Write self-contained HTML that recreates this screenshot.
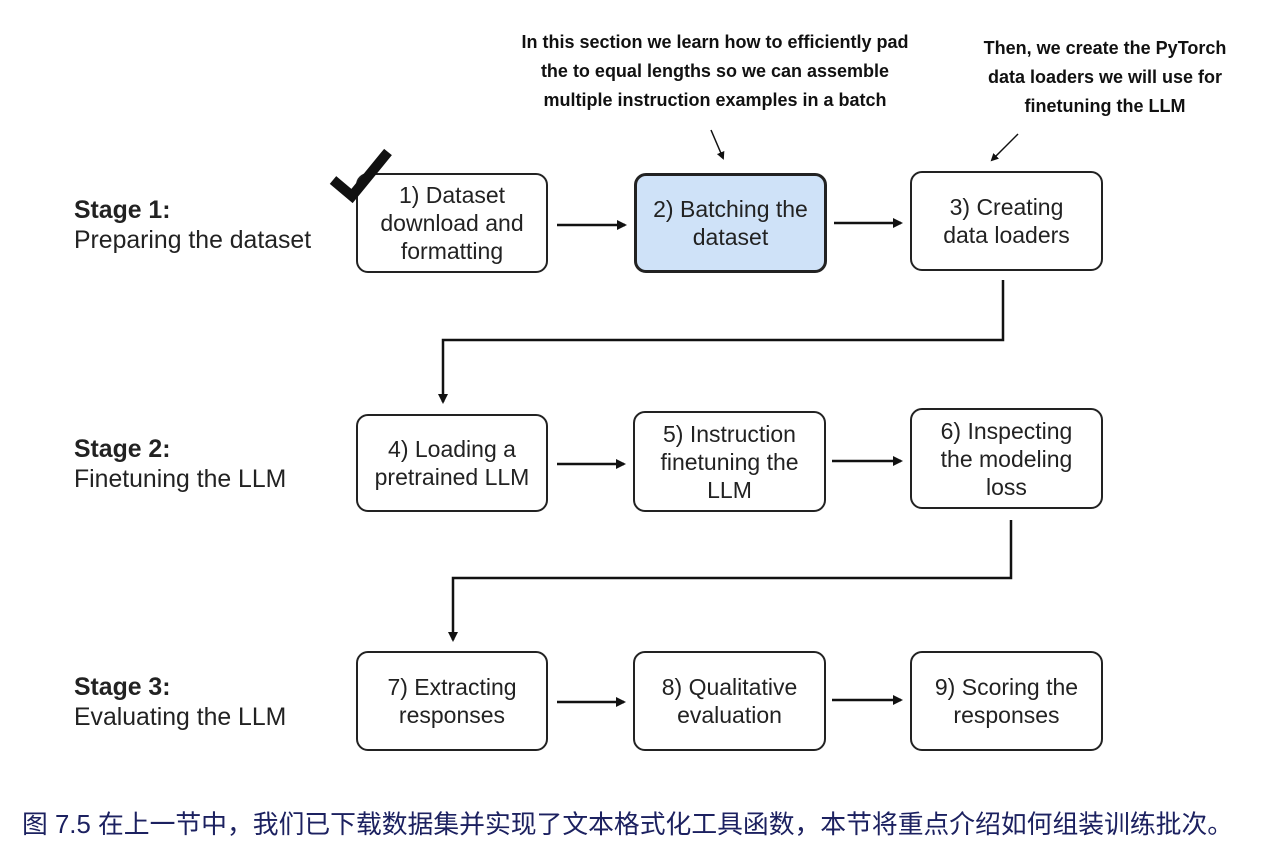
<!DOCTYPE html>
<html><head><meta charset="utf-8"><style>
body{margin:0;width:1268px;height:854px;background:#fff;position:relative;overflow:hidden;font-family:"Liberation Sans",sans-serif;color:#222}
.b{position:absolute;box-sizing:border-box;border:2px solid #222;border-radius:12px;background:#fff;display:flex;align-items:center;justify-content:center;text-align:center;font-size:23px;line-height:28px;white-space:nowrap}
.st{position:absolute;left:74px;font-size:24.8px;line-height:30px}
.st b{font-weight:bold}
.note{position:absolute;font-weight:bold;font-size:18px;line-height:29px;text-align:center;color:#111;white-space:nowrap}
.cap{position:absolute;left:22px;top:804px;font-size:25.8px;color:#1c2160;font-family:"Liberation Sans","Noto Sans CJK SC",sans-serif;white-space:nowrap}
</style></head><body>
<div class="note" style="left:505px;top:28px;width:420px">In this section we learn how to efficiently pad<br>the to equal lengths so we can assemble<br>multiple instruction examples in a batch</div>
<div class="note" style="left:960px;top:34px;width:290px">Then, we create the PyTorch<br>data loaders we will use for<br>finetuning the LLM</div>

<div class="st" style="top:196px"><b>Stage 1:</b><br>Preparing the dataset</div>
<div class="st" style="top:435px"><b>Stage 2:</b><br>Finetuning the LLM</div>
<div class="st" style="top:673px"><b>Stage 3:</b><br>Evaluating the LLM</div>

<div class="b" style="left:356px;top:173px;width:192px;height:100px">1) Dataset<br>download and<br>formatting</div>
<div class="b" style="left:634px;top:173px;width:193px;height:100px;background:#cfe2f8;border-width:3px">2) Batching the<br>dataset</div>
<div class="b" style="left:910px;top:171px;width:193px;height:100px">3) Creating<br>data loaders</div>

<div class="b" style="left:356px;top:414px;width:192px;height:98px">4) Loading a<br>pretrained LLM</div>
<div class="b" style="left:633px;top:411px;width:193px;height:101px">5) Instruction<br>finetuning the<br>LLM</div>
<div class="b" style="left:910px;top:408px;width:193px;height:101px">6) Inspecting<br>the modeling<br>loss</div>

<div class="b" style="left:356px;top:651px;width:192px;height:100px">7) Extracting<br>responses</div>
<div class="b" style="left:633px;top:651px;width:193px;height:100px">8) Qualitative<br>evaluation</div>
<div class="b" style="left:910px;top:651px;width:193px;height:100px">9) Scoring the<br>responses</div>

<svg width="1268" height="854" style="position:absolute;left:0;top:0" fill="none" stroke="#111" stroke-width="2.5">
<defs><marker id="a" markerWidth="10" markerHeight="10" refX="8" refY="5" orient="auto" markerUnits="userSpaceOnUse"><path d="M0,0 L10,5 L0,10z" fill="#111" stroke="none"/></marker>
<marker id="s" markerWidth="8" markerHeight="8" refX="6" refY="4" orient="auto" markerUnits="userSpaceOnUse"><path d="M0,0 L8,4 L0,8z" fill="#111" stroke="none"/></marker></defs>
<path d="M557,225 H625" marker-end="url(#a)"/>
<path d="M834,223 H901" marker-end="url(#a)"/>
<path d="M557,464 H624" marker-end="url(#a)"/>
<path d="M832,461 H901" marker-end="url(#a)"/>
<path d="M557,702 H624" marker-end="url(#a)"/>
<path d="M832,700 H901" marker-end="url(#a)"/>
<path d="M1003,280 V340 H443 V402" marker-end="url(#a)"/>
<path d="M1011,520 V578 H453 V640" marker-end="url(#a)"/>
<path d="M711,130 L723,158" stroke-width="1.5" marker-end="url(#s)"/>
<path d="M1018,134 L992,160" stroke-width="1.5" marker-end="url(#s)"/>
<path d="M333,180 L352,196 L388,152" stroke-width="10" stroke-linecap="butt" stroke-linejoin="miter"/>
</svg>
<div class="cap">图 7.5 在上一节中，我们已下载数据集并实现了文本格式化工具函数，本节将重点介绍如何组装训练批次。</div>
</body></html>
